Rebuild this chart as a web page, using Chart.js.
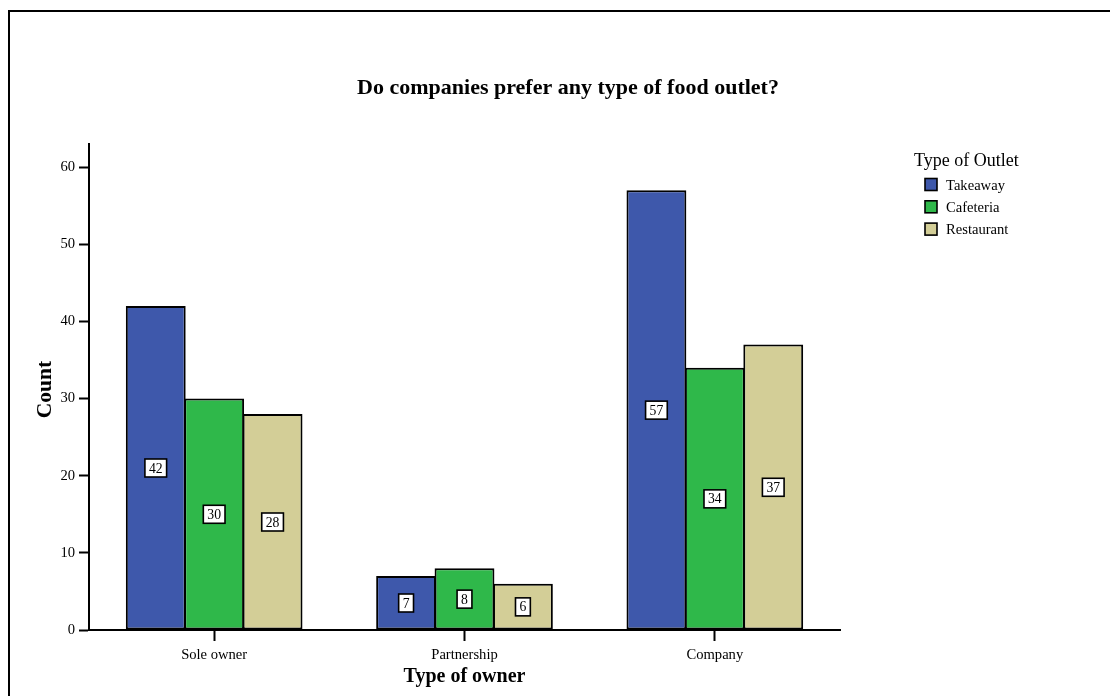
<!DOCTYPE html>
<html>
<head>
<meta charset="utf-8">
<title>Do companies prefer any type of food outlet?</title>
<script src="https://cdn.jsdelivr.net/npm/chart.js@4/dist/chart.umd.min.js"></script>
<style>
  html, body { margin: 0; padding: 0; background: #ffffff; }
  #wrap { width: 1110px; height: 696px; position: relative; }
</style>
</head>
<body>
<div id="wrap"><canvas id="chart" width="1110" height="696"></canvas></div>
<script>
// Categories and counts
const owners = ['Sole owner', 'Partnership', 'Company'];
const outletTypes = ['Takeaway', 'Cafeteria', 'Restaurant'];
const takeaway = [42, 7, 57];
const cafeteria = [30, 8, 34];
const restaurant = [28, 6, 37];
const countTicks = [0, 10, 20, 30, 40, 50, 60];

const chartTitle = 'Do companies prefer any type of food outlet?';
const xTitle = 'Type of owner';
const yTitle = 'Count';
const legendTitle = 'Type of Outlet';

const outletColors = ['#3e58ab', '#2fb84a', '#d3ce97'];
const SERIF = '"Liberation Serif", "Times New Roman", serif';

// Frame, titles, legend and in-bar value boxes
const decorations = {
  id: 'decorations',
  beforeDraw(chart) {
    const ctx = chart.ctx;
    ctx.save();
    ctx.strokeStyle = '#000';
    ctx.lineWidth = 2;
    ctx.beginPath();
    ctx.moveTo(9, chart.height + 2);
    ctx.lineTo(9, 11);
    ctx.lineTo(chart.width + 2, 11);
    ctx.stroke();
    ctx.restore();
  },
  afterDatasetsDraw(chart) {
    const ctx = chart.ctx;
    const yScale = chart.scales.y;
    ctx.save();
    ctx.font = '13.7px ' + SERIF;
    ctx.textAlign = 'center';
    ctx.textBaseline = 'middle';
    chart.data.datasets.forEach((ds, di) => {
      const meta = chart.getDatasetMeta(di);
      meta.data.forEach((bar, i) => {
        const v = ds.data[i];
        const cx = bar.x;
        const cy = yScale.getPixelForValue(v / 2);
        const txt = String(v);
        const w = ctx.measureText(txt).width + 8;
        const h = 18;
        ctx.fillStyle = '#fff';
        ctx.fillRect(cx - w / 2, cy - h / 2, w, h);
        ctx.strokeStyle = '#000';
        ctx.lineWidth = 1.6;
        ctx.strokeRect(cx - w / 2, cy - h / 2, w, h);
        ctx.fillStyle = '#000';
        ctx.fillText(txt, cx, cy + 1);
      });
    });
    ctx.restore();
  },
  afterDraw(chart) {
    const ctx = chart.ctx;
    const area = chart.chartArea;
    ctx.save();
    ctx.fillStyle = '#000';

    // main title
    ctx.font = 'bold 22px ' + SERIF;
    ctx.textAlign = 'center';
    ctx.textBaseline = 'alphabetic';
    ctx.fillText(chartTitle, 568, 94);

    // x axis title
    ctx.font = 'bold 20px ' + SERIF;
    ctx.fillText(xTitle, (area.left + area.right) / 2, 682);

    // y axis title
    ctx.save();
    ctx.translate(45, 389.5);
    ctx.rotate(-Math.PI / 2);
    ctx.font = 'bold 21.5px ' + SERIF;
    ctx.textBaseline = 'middle';
    ctx.fillText(yTitle, 0, 0);
    ctx.restore();

    // legend
    ctx.textAlign = 'left';
    ctx.textBaseline = 'alphabetic';
    ctx.font = '18px ' + SERIF;
    ctx.fillText(legendTitle, 914, 166);
    ctx.font = '14.6px ' + SERIF;
    chart.data.datasets.forEach((ds, i) => {
      const cy = 184.5 + i * 22.3;
      ctx.fillStyle = ds.backgroundColor;
      ctx.fillRect(925, cy - 6, 12, 12);
      ctx.strokeStyle = '#000';
      ctx.lineWidth = 1.6;
      ctx.strokeRect(925, cy - 6, 12, 12);
      ctx.fillStyle = '#000';
      ctx.fillText(ds.label, 946, cy + 5);
    });
    ctx.restore();
  }
};

const datasets = [takeaway, cafeteria, restaurant].map((values, i) => ({
  label: outletTypes[i],
  data: values,
  backgroundColor: outletColors[i],
  borderColor: '#000',
  borderWidth: 2,
  borderSkipped: false,
  categoryPercentage: 0.7,
  barPercentage: 1.025
}));

new Chart(document.getElementById('chart'), {
  type: 'bar',
  data: { labels: owners, datasets },
  plugins: [decorations],
  options: {
    responsive: false,
    animation: false,
    devicePixelRatio: 1,
    layout: { padding: { left: 0, top: 144, right: 270, bottom: 0 } },
    plugins: {
      legend: { display: false },
      title: { display: false },
      tooltip: { enabled: false }
    },
    scales: {
      x: {
        offset: true,
        afterFit(scale) { scale.height = 66; },
        grid: {
          offset: false,
          drawOnChartArea: false,
          drawTicks: true,
          tickLength: 11,
          tickWidth: 2,
          tickColor: '#000'
        },
        border: { display: true, color: '#000', width: 2 },
        ticks: {
          color: '#000',
          padding: 5,
          font: { family: SERIF, size: 14.6 }
        }
      },
      y: {
        min: 0,
        max: 63,
        afterFit(scale) { scale.width = 89; },
        afterBuildTicks(scale) { scale.ticks = countTicks.map(v => ({ value: v })); },
        grid: {
          drawOnChartArea: false,
          drawTicks: true,
          tickLength: 10,
          tickWidth: 2,
          tickColor: '#000'
        },
        border: { display: true, color: '#000', width: 2 },
        ticks: {
          color: '#000',
          padding: 4,
          font: { family: SERIF, size: 14.6 }
        }
      }
    }
  }
});
</script>
</body>
</html>
